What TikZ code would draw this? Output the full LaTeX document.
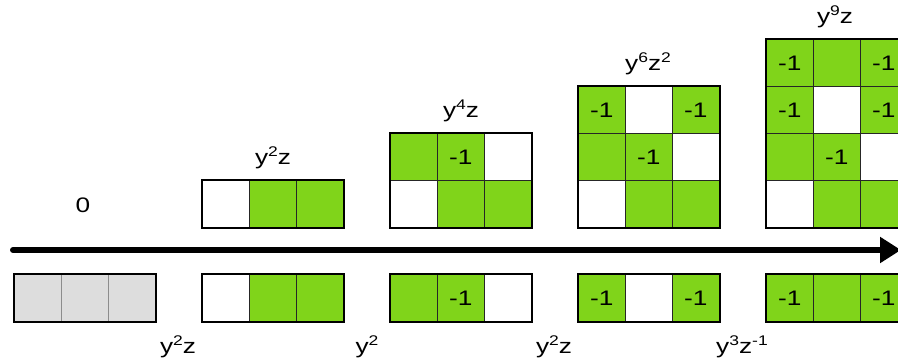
\documentclass[tikz,border=0pt]{standalone}
\usepackage{graphicx}
\usepackage{fontspec}
\setmainfont{Liberation Sans}
\usetikzlibrary{arrows.meta}
\definecolor{greencell}{RGB}{128, 212, 26}
\definecolor{greycell}{RGB}{221, 221, 221}

% text in the picture is set wide
\newcommand{\wide}[1]{\scalebox{1.25}[1]{#1}}
% raised small digits for the monomials
\newcommand{\supr}[1]{\raisebox{0.36em}{\fontsize{14}{14}\selectfont #1}}

% one row of cells: name, left x, top y, list of style/text
\newcommand{\cellrow}[4]{%
  \foreach \st/\tx [count=\i] in {#4}
    \node[\st] (#1-\i) at ({#2+47*(\i-1)},#3) {\wide{\tx}};
}

\begin{document}
\begin{tikzpicture}[
      x=1pt, y=-1pt,
      font=\fontsize{21}{23}\selectfont,
      cell/.style={draw=black!85, line width=0.8pt, minimum width=47pt,
        minimum height=47pt, inner sep=0pt, anchor=north west},
      gcell/.style={cell, fill=greencell},
      wcell/.style={cell, fill=white},
      ecell/.style={cell, fill=greycell, draw=black!45},
      frame/.style={draw=black, line width=2.2pt},
      label/.style={inner sep=0pt},
  ]
  \path[use as bounding box, clip] (0,0) rectangle (898,364);

  % axis
  \coordinate (axis-start) at (13,250);
  \coordinate (axis-end) at (901,250);
  \draw[line width=6pt, line cap=round, -{Triangle[length=21pt,width=25pt]}]
    (axis-start) -- (axis-end);

  % 1. empty
  \node[label] (top1) at (83,205) {\wide{0}};
  \cellrow{bot1}{14}{274}{ecell/{}, ecell/{}, ecell/{}}
  \draw[frame] (bot1-1.north west) rectangle (bot1-3.south east);
  \node[label] (step1) at (178,347) {\wide{y\supr{2}z}};

  % 2. one row
  \node[label] (top2) at (273,158) {\wide{y\supr{2}z}};
  \cellrow{b2r1}{202}{180}{wcell/{}, gcell/{}, gcell/{}}
  \draw[frame] (b2r1-1.north west) rectangle (b2r1-3.south east);
  \cellrow{bot2}{202}{274}{wcell/{}, gcell/{}, gcell/{}}
  \draw[frame] (bot2-1.north west) rectangle (bot2-3.south east);
  \node[label] (step2) at (367,347) {\wide{y\supr{2}}};

  % 3. two rows
  \node[label] (top3) at (461,111) {\wide{y\supr{4}z}};
  \cellrow{b3r1}{390}{133}{gcell/{}, gcell/-1, wcell/{}}
  \cellrow{b3r2}{390}{180}{wcell/{}, gcell/{}, gcell/{}}
  \draw[frame] (b3r1-1.north west) rectangle (b3r2-3.south east);
  \cellrow{bot3}{390}{274}{gcell/{}, gcell/-1, wcell/{}}
  \draw[frame] (bot3-1.north west) rectangle (bot3-3.south east);
  \node[label] (step3) at (554,347) {\wide{y\supr{2}z}};

  % 4. three rows
  \node[label] (top4) at (648,64) {\wide{y\supr{6}z\supr{2}}};
  \cellrow{b4r1}{578}{86}{gcell/-1, wcell/{}, gcell/-1}
  \cellrow{b4r2}{578}{133}{gcell/{}, gcell/-1, wcell/{}}
  \cellrow{b4r3}{578}{180}{wcell/{}, gcell/{}, gcell/{}}
  \draw[frame] (b4r1-1.north west) rectangle (b4r3-3.south east);
  \cellrow{bot4}{578}{274}{gcell/-1, wcell/{}, gcell/-1}
  \draw[frame] (bot4-1.north west) rectangle (bot4-3.south east);
  \node[label] (step4) at (742,347) {\wide{y\supr{3}z\supr{-1}}};

  % 5. four rows
  \node[label] (top5) at (835,17) {\wide{y\supr{9}z}};
  \cellrow{b5r1}{766}{39}{gcell/-1, gcell/{}, gcell/-1}
  \cellrow{b5r2}{766}{86}{gcell/-1, wcell/{}, gcell/-1}
  \cellrow{b5r3}{766}{133}{gcell/{}, gcell/-1, wcell/{}}
  \cellrow{b5r4}{766}{180}{wcell/{}, gcell/{}, gcell/{}}
  \draw[frame] (b5r1-1.north west) rectangle (b5r4-3.south east);
  \cellrow{bot5}{766}{274}{gcell/-1, gcell/{}, gcell/-1}
  \draw[frame] (bot5-1.north west) rectangle (bot5-3.south east);
\end{tikzpicture}
\end{document}
